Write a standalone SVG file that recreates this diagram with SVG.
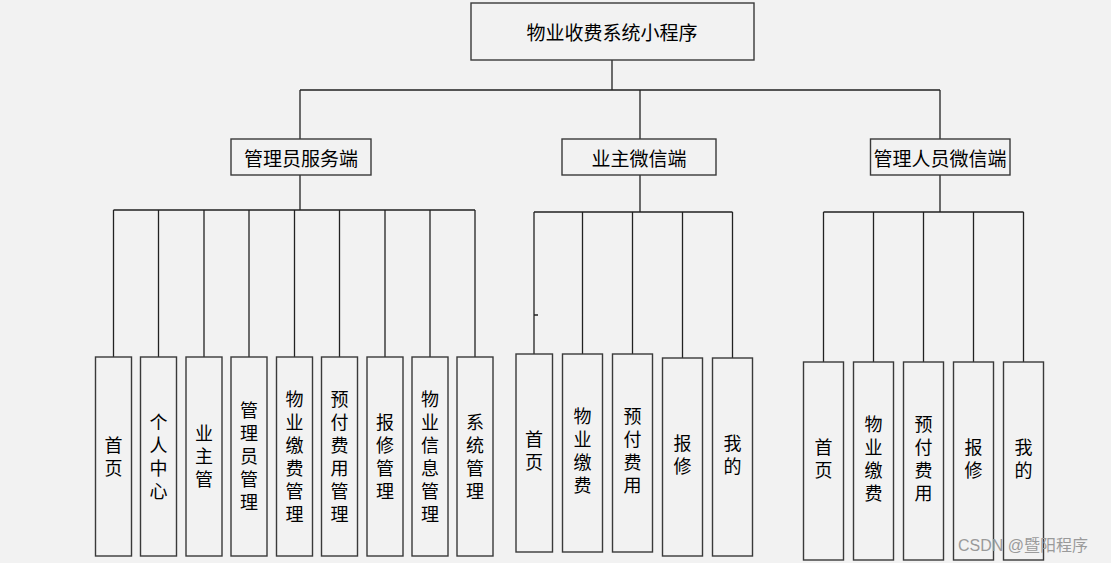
<svg xmlns="http://www.w3.org/2000/svg" width="1111" height="563" viewBox="0 0 1111 563">
<style>
.bg{fill:#f2f2f2}
.box{fill:#f2f2f2;stroke:#3a3a3a;stroke-width:1.4}
.ln{stroke:#222;stroke-width:1.3;fill:none}
.t{font-family:"Noto Sans CJK SC","Liberation Sans",sans-serif;font-size:18px;fill:#000;text-anchor:middle;dominant-baseline:central}
.h{font-size:19px}
.v{font-family:"Noto Sans CJK SC","Liberation Sans",sans-serif;font-size:18px;fill:#000;text-anchor:middle;writing-mode:vertical-rl;text-orientation:upright;letter-spacing:5px}
.wm{font-family:"Liberation Sans","Noto Sans CJK SC",sans-serif;font-size:16px;fill:#9a9a9a}
</style>
<rect class="bg" x="0" y="0" width="1111" height="563"/>
<g id="connectors">
<path class="ln" d="M612,60V90M300,90H940M300,90V139M640,90V139M940,90V139"/>
<path class="ln" d="M300,175V210M113.5,210H475M113.5,210V357M158.5,210V357M204,210V357M249,210V357M294.5,210V357M339.5,210V357M385,210V357M430,210V357M475,210V357"/>
<path class="ln" d="M640,175V212M534,212H732.5M534,212V354M582.5,212V354M632.5,212V354M682.5,212V358M732.5,212V358M534,315H538"/>
<path class="ln" d="M940,175V212M823.5,212H1023.5M823.5,212V362M873.5,212V362M923.5,212V362M973.5,212V362M1023.5,212V362"/>
</g>
<g id="root"><rect class="box" x="471" y="3" width="283" height="57"/><text class="t h" x="612" y="31">物业收费系统小程序</text></g>
<g id="admin"><rect class="box" x="231" y="139" width="140" height="36"/><text class="t h" x="301" y="157">管理员服务端</text></g>
<g id="owner"><rect class="box" x="562" y="139" width="154" height="36"/><text class="t h" x="639" y="157">业主微信端</text></g>
<g id="staff"><rect class="box" x="870.5" y="139" width="139.5" height="36"/><text class="t h" x="940" y="157">管理人员微信端</text></g>

<g id="a1"><rect class="box" x="95.5" y="357" width="36" height="199"/><text class="v" x="113.5" y="459">首页</text></g>
<g id="a2"><rect class="box" x="140.5" y="357" width="36" height="199"/><text class="v" x="158.5" y="459">个人中心</text></g>
<g id="a3"><rect class="box" x="186" y="357" width="36" height="199"/><text class="v" x="204" y="459">业主管</text></g>
<g id="a4"><rect class="box" x="231" y="357" width="36" height="199"/><text class="v" x="249" y="459">管理员管理</text></g>
<g id="a5"><rect class="box" x="276.5" y="357" width="36" height="199"/><text class="v" x="294.5" y="459">物业缴费管理</text></g>
<g id="a6"><rect class="box" x="321.5" y="357" width="36" height="199"/><text class="v" x="339.5" y="459">预付费用管理</text></g>
<g id="a7"><rect class="box" x="367" y="357" width="36" height="199"/><text class="v" x="385" y="459">报修管理</text></g>
<g id="a8"><rect class="box" x="412" y="357" width="36" height="199"/><text class="v" x="430" y="459">物业信息管理</text></g>
<g id="a9"><rect class="box" x="457" y="357" width="36" height="199"/><text class="v" x="475" y="459">系统管理</text></g>

<g id="o1"><rect class="box" x="516" y="354" width="36.5" height="198"/><text class="v" x="534" y="453">首页</text></g>
<g id="o2"><rect class="box" x="562.5" y="354" width="40" height="198"/><text class="v" x="582.5" y="453">物业缴费</text></g>
<g id="o3"><rect class="box" x="612.5" y="354" width="40" height="198"/><text class="v" x="632.5" y="453">预付费用</text></g>
<g id="o4"><rect class="box" x="662.5" y="358" width="40" height="198"/><text class="v" x="682.5" y="457">报修</text></g>
<g id="o5"><rect class="box" x="712.5" y="358" width="40" height="198"/><text class="v" x="732.5" y="457">我的</text></g>

<g id="s1"><rect class="box" x="803.5" y="362" width="40" height="198"/><text class="v" x="823.5" y="461">首页</text></g>
<g id="s2"><rect class="box" x="853.5" y="362" width="40" height="198"/><text class="v" x="873.5" y="461">物业缴费</text></g>
<g id="s3"><rect class="box" x="903.5" y="362" width="40" height="198"/><text class="v" x="923.5" y="461">预付费用</text></g>
<g id="s4"><rect class="box" x="953.5" y="362" width="40" height="198"/><text class="v" x="973.5" y="461">报修</text></g>
<g id="s5"><rect class="box" x="1003.5" y="362" width="40" height="198"/><text class="v" x="1023.5" y="461">我的</text></g>

<text class="wm" x="958" y="551">CSDN @暨阳程序</text>
</svg>
